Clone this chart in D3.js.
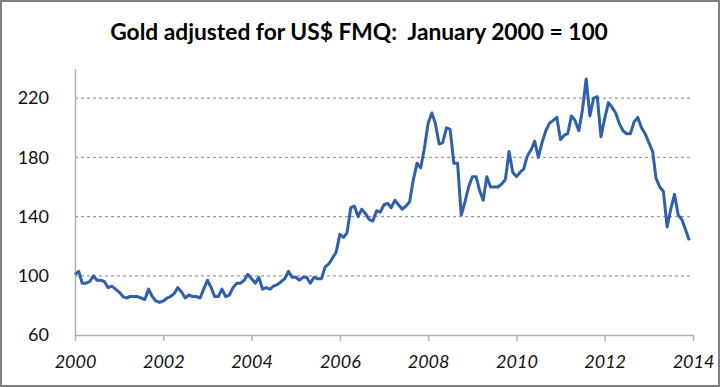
<!DOCTYPE html>
<html><head><meta charset="utf-8">
<script src="https://cdn.jsdelivr.net/npm/d3@7"></script>
<style>body{margin:0;background:#fff}svg{display:block}</style>
</head><body>
<svg id="c" width="720" height="387"></svg>
<script>
const title = "Gold adjusted for US$ FMQ:  January 2000 = 100";
const startYear = 2000;
const yTicks = [60, 100, 140, 180, 220];
const xTickYears = [2000, 2002, 2004, 2006, 2008, 2010, 2012, 2014];
const v2000 = [101,103,95,95,96,100,97,97,96,92,93,91];
const v2001 = [89,86,85,86,86,86,85,84,91,86,83,82];
const v2002 = [83,85,86,88,92,89,85,87,86,86,85,91];
const v2003 = [97,92,86,86,91,86,87,92,95,95,97,101];
const v2004 = [98,95,99,91,92,91,93,94,96,98,103,99];
const v2005 = [99,97,99,99,95,99,98,98,106,108,112,116];
const v2006 = [128,126,129,146,147,140,145,142,138,137,144,143];
const v2007 = [148,149,146,151,148,145,147,150,165,176,173,186];
const v2008 = [203,210,203,189,190,200,199,176,176,141,150,160];
const v2009 = [167,167,158,151,167,160,160,160,162,165,184,170];
const v2010 = [167,170,172,181,185,191,180,190,198,203,205,207];
const v2011 = [192,195,196,208,205,198,212,233,208,220,221,194];
const v2012 = [206,217,214,210,203,198,196,196,204,207,200,196];
const v2013 = [190,184,166,160,157,133,145,155,141,138,131,124];
const values = [].concat(v2000,v2001,v2002,v2003,v2004,v2005,v2006,v2007,v2008,v2009,v2010,v2011,v2012,v2013);
const data = values.map((v,i)=>({date:new Date(startYear + Math.floor(i/12), i%12, 1), v}));

const svg = d3.select("#c");
const font = "Lato, 'Open Sans', sans-serif";
const L = 75, R = 693, T = 68.6, B = 335;

svg.append("rect").attr("x",1).attr("y",1).attr("width",718).attr("height",385)
  .attr("fill","#fff").attr("stroke","#808080").attr("stroke-width",2);

const x = d3.scaleTime().domain([new Date(2000,0,1), new Date(2014,0,1)]).range([L,R]);
const y = d3.scaleLinear().domain([60,240]).range([B,T]);

// gridlines
svg.append("g").selectAll("line").data(yTicks.filter(t=>t>60)).join("line")
  .attr("x1",L).attr("x2",R).attr("y1",d=>y(d)).attr("y2",d=>y(d))
  .attr("stroke","#9a9a9a").attr("stroke-width",1.3).attr("stroke-dasharray","3,3");

// y axis
const ya = svg.append("g").attr("transform",`translate(${L},0)`)
  .call(d3.axisLeft(y).tickValues(yTicks).tickSize(0).tickPadding(26));
ya.select(".domain").attr("stroke","#b0b0b0").attr("stroke-width",1.5);
ya.selectAll("text").attr("font-family",font).attr("font-size",18).attr("fill","#111");

// x axis
const xa = svg.append("g").attr("transform",`translate(0,${B})`)
  .call(d3.axisBottom(x).tickValues(xTickYears.map(yr=>new Date(yr,0,1))).tickFormat(d3.timeFormat("%Y")).tickSize(6).tickSizeOuter(0).tickPadding(14));
xa.select(".domain").attr("stroke","#b0b0b0").attr("stroke-width",1.5);
xa.selectAll(".tick line").attr("stroke","#b0b0b0").attr("stroke-width",1.5);
xa.selectAll("text").attr("font-family",font).attr("font-size",18).attr("font-style","italic").attr("fill","#111");

// line
svg.append("path").datum(data)
  .attr("fill","none").attr("stroke","#2f60a9").attr("stroke-width",3).attr("stroke-linejoin","round")
  .attr("d", d3.line().x(d=>x(d.date)).y(d=>y(d.v)));

// title
const t = svg.append("text").attr("x",359).attr("y",40).attr("text-anchor","middle")
  .attr("font-family",font).attr("font-weight","bold").attr("font-size",20).attr("fill","#000")
  .attr("xml:space","preserve").style("white-space","pre").text(title);
const w = t.node().getComputedTextLength();
t.attr("font-size", 20*498/w);
</script>
</body></html>
